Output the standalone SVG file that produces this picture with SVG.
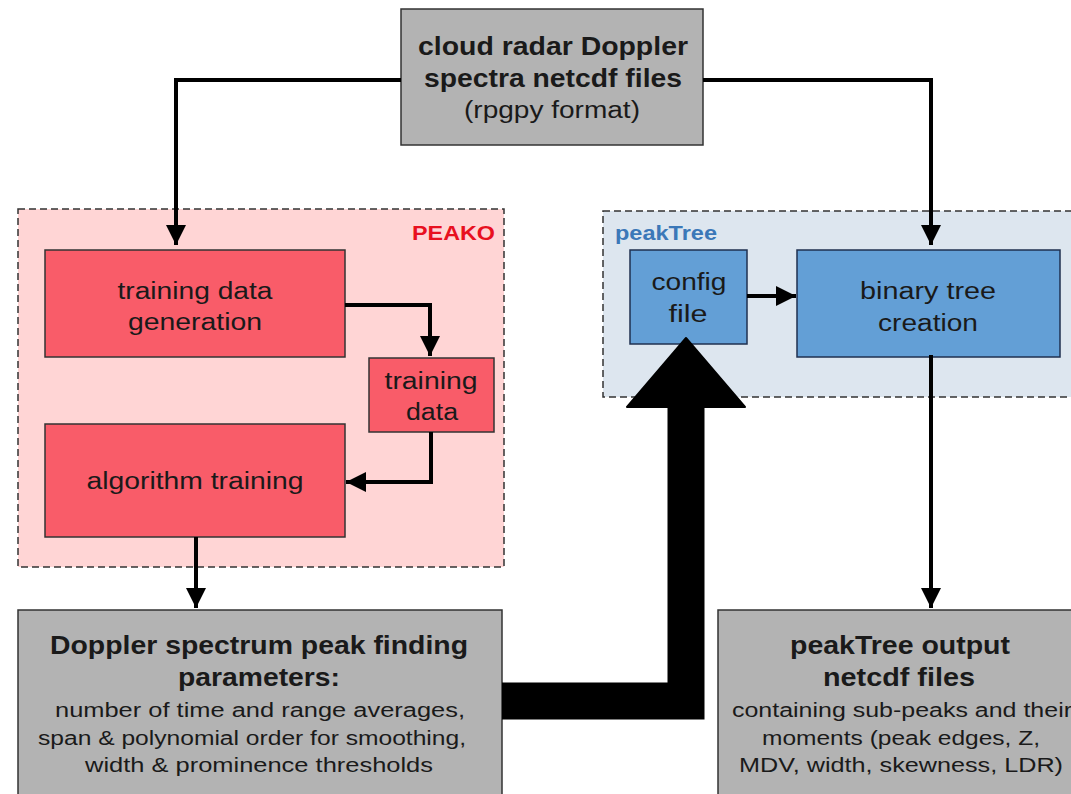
<svg xmlns="http://www.w3.org/2000/svg" width="1071" height="794" viewBox="0 0 1071 794">
<defs>
<style>
.t{font-family:"Liberation Sans",Arial,sans-serif;fill:#1a1a1a;text-anchor:middle}
.b{font-weight:bold;font-size:25px}
.n{font-size:23px}
.s{font-size:20px}
.gray{fill:#b3b3b3;stroke:#333;stroke-width:1.5}
.red{fill:#f95c69;stroke:#333;stroke-width:1.5}
.blue{fill:#639fd6;stroke:#1f3050;stroke-width:1.5}
.grp{stroke:#333;stroke-width:1.5;stroke-dasharray:7 4}
.c{fill:none;stroke:#000;stroke-width:4}
</style>
<marker id="ah" viewBox="0 0 10 10" refX="10" refY="5" markerWidth="5" markerHeight="5" markerUnits="strokeWidth" orient="auto">
<path d="M0,0 L10,5 L0,10 z" fill="#000"/>
</marker>
</defs>
<rect width="1071" height="794" fill="#fff"/>
<g id="peako">
<rect x="18" y="209" width="486" height="358" fill="#ffd5d5" class="grp"/>
<text x="495" y="240" font-family="'Liberation Sans',Arial,sans-serif" font-weight="bold" font-size="21" fill="#e8101f" text-anchor="end" textLength="83" lengthAdjust="spacingAndGlyphs">PEAKO</text>
</g>
<g id="peaktree">
<rect x="603" y="211" width="480" height="186" fill="#dde6ef" class="grp"/>
<text x="615" y="240" font-family="'Liberation Sans',Arial,sans-serif" font-weight="bold" font-size="20" fill="#3b78b8" textLength="102" lengthAdjust="spacingAndGlyphs">peakTree</text>
</g>
<g id="source">
<rect x="401" y="9" width="302" height="136" class="gray"/>
<text x="553" y="55" class="t b" textLength="270" lengthAdjust="spacingAndGlyphs">cloud radar Doppler</text>
<text x="553" y="87" class="t b" textLength="258" lengthAdjust="spacingAndGlyphs">spectra netcdf files</text>
<text x="552" y="118" class="t n" textLength="176" lengthAdjust="spacingAndGlyphs">(rpgpy format)</text>
</g>
<g id="gen">
<rect x="45" y="250" width="300" height="107" class="red"/>
<text x="195" y="299" class="t n" textLength="155" lengthAdjust="spacingAndGlyphs">training data</text>
<text x="195" y="330" class="t n" textLength="134" lengthAdjust="spacingAndGlyphs">generation</text>
</g>
<g id="tdata">
<rect x="369" y="358" width="125" height="74" class="red"/>
<text x="431" y="389" class="t n" textLength="93" lengthAdjust="spacingAndGlyphs">training</text>
<text x="432" y="420" class="t n" textLength="52" lengthAdjust="spacingAndGlyphs">data</text>
</g>
<g id="algo">
<rect x="45" y="424" width="300" height="113" class="red"/>
<text x="195" y="489" class="t n" textLength="217" lengthAdjust="spacingAndGlyphs">algorithm training</text>
</g>
<g id="config">
<rect x="630" y="250" width="117" height="94" class="blue"/>
<text x="689" y="290" class="t n" textLength="75" lengthAdjust="spacingAndGlyphs">config</text>
<text x="688" y="322" class="t n" textLength="39" lengthAdjust="spacingAndGlyphs">file</text>
</g>
<g id="tree">
<rect x="797" y="250" width="263" height="107" class="blue"/>
<text x="928" y="299" class="t n" textLength="136" lengthAdjust="spacingAndGlyphs">binary tree</text>
<text x="928" y="331" class="t n" textLength="100" lengthAdjust="spacingAndGlyphs">creation</text>
</g>
<g id="params">
<rect x="18" y="610" width="484" height="200" class="gray"/>
<text x="259" y="654" class="t b" textLength="418" lengthAdjust="spacingAndGlyphs">Doppler spectrum peak finding</text>
<text x="259" y="686" class="t b" textLength="162" lengthAdjust="spacingAndGlyphs">parameters:</text>
<text x="260" y="717" class="t s" textLength="410" lengthAdjust="spacingAndGlyphs">number of time and range averages,</text>
<text x="252" y="745" class="t s" textLength="428" lengthAdjust="spacingAndGlyphs">span &amp; polynomial order for smoothing,</text>
<text x="259" y="772" class="t s" textLength="348" lengthAdjust="spacingAndGlyphs">width &amp; prominence thresholds</text>
</g>
<g id="output">
<rect x="718" y="610" width="366" height="200" class="gray"/>
<text x="900" y="654" class="t b" textLength="220" lengthAdjust="spacingAndGlyphs">peakTree output</text>
<text x="899" y="686" class="t b" textLength="152" lengthAdjust="spacingAndGlyphs">netcdf files</text>
<text x="902" y="717" class="t s" textLength="340" lengthAdjust="spacingAndGlyphs">containing sub-peaks and their</text>
<text x="901" y="745" class="t s" textLength="278" lengthAdjust="spacingAndGlyphs">moments (peak edges, Z,</text>
<text x="901" y="772" class="t s" textLength="324" lengthAdjust="spacingAndGlyphs">MDV, width, skewness, LDR)</text>
</g>
<g id="connectors">
<path d="M401,80 H176 V245" class="c" marker-end="url(#ah)"/>
<path d="M703,80 H931 V245" class="c" marker-end="url(#ah)"/>
<path d="M345,305 H430 V356" class="c" marker-end="url(#ah)"/>
<path d="M431,432 V482 H346" class="c" marker-end="url(#ah)"/>
<path d="M196,537 V608" class="c" marker-end="url(#ah)"/>
<path d="M747,296 H796" class="c" marker-end="url(#ah)"/>
<path d="M931,355 V608" class="c" marker-end="url(#ah)"/>
<path d="M502,701 H686 V400" fill="none" stroke="#000" stroke-width="37"/>
<path d="M686,338 L745,407 L627,407 Z" fill="#000" stroke="#000" stroke-width="2" stroke-linejoin="round"/>
</g>
</svg>
